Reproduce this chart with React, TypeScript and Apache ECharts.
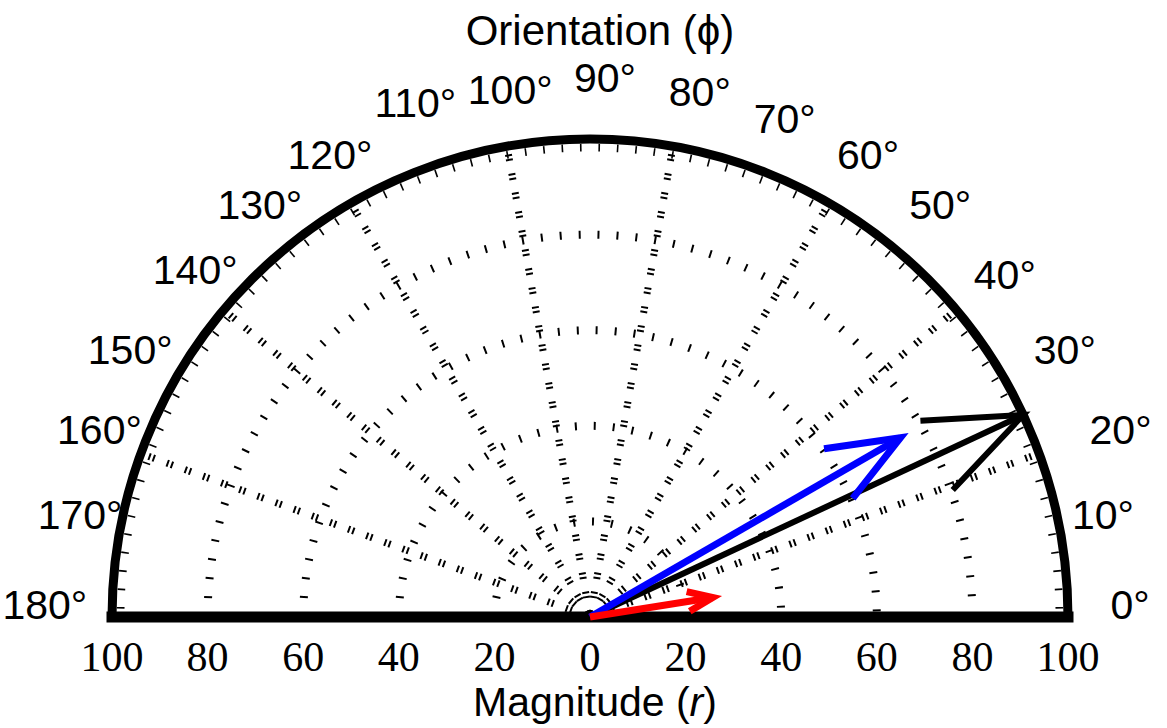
import React, { useEffect, useRef } from "react";
import * as echarts from "echarts";

// Vectors: magnitude r and orientation phi (degrees)
const vectorMagnitudes = [100, 75, 26];
const vectorOrientations = [25, 30, 9];
const vectorColors = ["#000000", "#0000ff", "#ff0000"];
const vectorWidths = [6, 7, 7];

// Grid
const ringValues = [20, 40, 60, 80];
const spokeAngles = [20, 40, 60, 80, 100, 120, 140, 160];
const angleTickLabels = [0, 10, 20, 30, 40, 50, 60, 70, 80, 90, 100, 110, 120, 130, 140, 150, 160, 170, 180];
const magnitudeTickLabels = [0, 20, 40, 60, 80, 100];

// Layout helpers (pixels)
const LABEL_R = 113;
const labelNudge: [number, number][] = [
  [0, -12], [-19, -8], [23, -2], [7, 3], [1, 5], [3, 2], [8, 6], [10, 10], [16, 7], [15, 1],
  [14, 5], [10, -6], [10, 6], [17, 2], [19, 0], [8, 3], [17, -2], [22, -8], [-5, -12],
];
const SANS = '"Liberation Sans", Arial, sans-serif';
const SERIF = '"Liberation Serif", "Times New Roman", serif';

export default function App() {
  const ref = useRef<HTMLDivElement>(null);

  useEffect(() => {
    document.body.style.margin = "0";
    const chart = echarts.init(ref.current!, null, { renderer: "svg" });

    const rimTicks: number[][] = [];
    for (let a = 1.125; a < 180; a += 2.25) rimTicks.push([100, a]);

    const option: any = {
      animation: false,
      backgroundColor: "#ffffff",
      polar: { center: [590, 617], radius: 478 },
      radiusAxis: {
        type: "value", min: 0, max: 100,
        axisLine: { show: false }, axisTick: { show: false },
        axisLabel: { show: false }, splitLine: { show: false },
      },
      angleAxis: {
        type: "value", min: 0, max: 360, startAngle: 0, clockwise: false,
        axisLine: { show: false }, axisTick: { show: false },
        axisLabel: { show: false }, splitLine: { show: false },
      },
      graphic: [
        {
          type: "text", x: 600, y: 30, z: 10,
          style: { text: "Orientation (\u03d5)", fontSize: 42, fontFamily: SANS, fill: "#000", align: "center", verticalAlign: "middle" },
        },
        {
          type: "text", x: 595, y: 702, z: 10,
          style: {
            text: "{a|Magnitude (}{i|r}{a|)}", align: "center", verticalAlign: "middle",
            rich: {
              a: { fontSize: 41, fontFamily: SANS, fill: "#000" },
              i: { fontSize: 41, fontFamily: SANS, fontStyle: "italic", fill: "#000" },
            },
          },
        },
      ],
      series: [
        // dotted rings
        {
          type: "custom", coordinateSystem: "polar", silent: true, z: 1,
          data: ringValues.map((v) => [v, 0]),
          renderItem: (_p: any, api: any) => {
            const c = api.coord([0, 0]);
            const e = api.coord([api.value(0), 0]);
            return {
              type: "arc",
              shape: { cx: c[0], cy: c[1], r: e[0] - c[0], startAngle: Math.PI, endAngle: 2 * Math.PI, clockwise: true },
              style: { stroke: "#000", fill: "none", lineWidth: 8, lineDash: [2, 17] },
            };
          },
        },
        // dotted spokes
        {
          type: "custom", coordinateSystem: "polar", silent: true, z: 1,
          data: spokeAngles.map((a) => [100, a]),
          renderItem: (_p: any, api: any) => {
            const o = api.coord([0, api.value(1)]);
            const e = api.coord([api.value(0), api.value(1)]);
            return {
              type: "line",
              shape: { x1: o[0], y1: o[1], x2: e[0], y2: e[1] },
              style: { stroke: "#000", lineWidth: 7, lineDash: [2, 2.5, 2, 12.8] },
            };
          },
        },
        // rim ticks
        {
          type: "custom", coordinateSystem: "polar", silent: true, z: 2,
          data: rimTicks,
          renderItem: (_p: any, api: any) => {
            const a = api.value(1);
            const s = api.coord([97.4, a]);
            const e = api.coord([99, a]);
            return {
              type: "line",
              shape: { x1: s[0], y1: s[1], x2: e[0], y2: e[1] },
              style: { stroke: "#000", lineWidth: 1.6 },
            };
          },
        },
        // outer rim and baseline
        {
          type: "custom", coordinateSystem: "polar", silent: true, z: 3,
          data: [[100, 0]],
          renderItem: (_p: any, api: any) => {
            const c = api.coord([0, 0]);
            const right = api.coord([api.value(0), 0]);
            const left = api.coord([api.value(0), 180]);
            return {
              type: "group",
              children: [
                {
                  type: "arc",
                  shape: { cx: c[0], cy: c[1], r: right[0] - c[0], startAngle: Math.PI, endAngle: 2 * Math.PI, clockwise: true },
                  style: { stroke: "#000", fill: "none", lineWidth: 9 },
                },
                {
                  type: "line",
                  shape: { x1: left[0], y1: left[1], x2: right[0], y2: right[1] },
                  style: { stroke: "#000", lineWidth: 11, lineCap: "square" },
                },
              ],
            };
          },
        },
        // vectors
        {
          type: "custom", coordinateSystem: "polar", silent: true, z: 4,
          data: vectorMagnitudes.map((m, i) => [m, vectorOrientations[i]]),
          renderItem: (p: any, api: any) => {
            const r = api.value(0);
            const a = api.value(1);
            const color = vectorColors[p.dataIndex];
            const lw = vectorWidths[p.dataIndex];
            const o = api.coord([0, a]);
            const tip = api.coord([r, a]);
            const headR = r * Math.hypot(0.8, 0.08);
            const da = (Math.atan2(0.08, 0.8) * 180) / Math.PI;
            const h1 = api.coord([headR, a + da]);
            const h2 = api.coord([headR, a - da]);
            return {
              type: "group",
              children: [
                {
                  type: "line",
                  shape: { x1: o[0], y1: o[1], x2: tip[0], y2: tip[1] },
                  style: { stroke: color, lineWidth: lw },
                },
                {
                  type: "polyline",
                  shape: { points: [h1, tip, h2] },
                  style: { stroke: color, fill: "none", lineWidth: lw, lineJoin: "miter", miterLimit: 10 },
                },
              ],
            };
          },
        },
        // orientation labels
        {
          type: "custom", coordinateSystem: "polar", silent: true, z: 5,
          data: angleTickLabels.map((a) => [LABEL_R, a]),
          renderItem: (p: any, api: any) => {
            const pt = api.coord([api.value(0), api.value(1)]);
            const n = labelNudge[p.dataIndex] || [0, 0];
            return {
              type: "text",
              x: pt[0] + n[0], y: pt[1] + n[1],
              style: {
                text: api.value(1) + "\u00b0", fontSize: 41, fontFamily: SANS, fill: "#000",
                align: "center", verticalAlign: "middle",
              },
            };
          },
        },
        // magnitude labels along the baseline
        {
          type: "custom", coordinateSystem: "polar", silent: true, z: 5,
          data: [
            ...magnitudeTickLabels.slice().reverse().filter((m) => m > 0).map((m) => [m, 180]),
            [0, 0],
            ...magnitudeTickLabels.filter((m) => m > 0).map((m) => [m, 0]),
          ],
          renderItem: (_p: any, api: any) => {
            const pt = api.coord([api.value(0), api.value(1)]);
            return {
              type: "text",
              x: pt[0], y: pt[1] + 40,
              style: {
                text: String(api.value(0)), fontSize: 42, fontFamily: SERIF, fill: "#000",
                align: "center", verticalAlign: "middle",
              },
            };
          },
        },
      ],
    };

    chart.setOption(option);
    return () => chart.dispose();
  }, []);

  return <div ref={ref} style={{ width: 1167, height: 728 }} />;
}
